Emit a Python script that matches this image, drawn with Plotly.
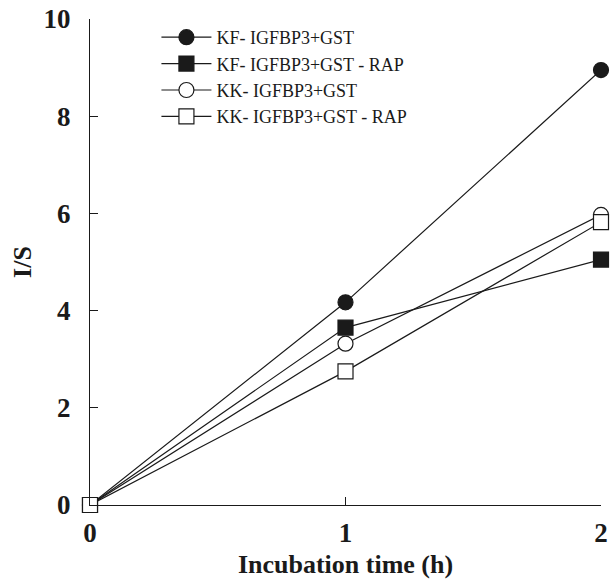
import plotly.graph_objects as go

time_h = [0, 1, 2]
kf_gst = [0, 4.17, 8.95]
kf_gst_rap = [0, 3.65, 5.05]
kk_gst = [0, 3.32, 5.97]
kk_gst_rap = [0, 2.75, 5.82]
names = ["KF- IGFBP3+GST", "KF- IGFBP3+GST - RAP", "KK- IGFBP3+GST", "KK- IGFBP3+GST - RAP"]
y_ticks = [0, 2, 4, 6, 8, 10]
x_ticks = [0, 1, 2]

series = [
    (kf_gst, "circle", "#1a1a1a"),
    (kf_gst_rap, "square", "#1a1a1a"),
    (kk_gst, "circle", "white"),
    (kk_gst_rap, "square", "white"),
]

fig = go.Figure()
for (vals, sym, fill), nm in zip(series, names):
    fig.add_trace(go.Scatter(
        x=time_h, y=vals, name=nm, mode="lines+markers",
        line=dict(color="#1a1a1a", width=1.2),
        marker=dict(symbol=sym, size=15, color=fill, line=dict(color="#1a1a1a", width=1.2)),
        cliponaxis=False,
    ))

fig.update_layout(
    width=611, height=585,
    margin=dict(l=90, r=10, t=19, b=80),
    paper_bgcolor="white", plot_bgcolor="white",
    font=dict(family="Liberation Serif", color="#1a1a1a"),
    showlegend=True,
    legend=dict(x=0.13, y=1.0, xanchor="left", yanchor="top",
                font=dict(family="Liberation Serif", size=18, color="#1a1a1a"),
                bgcolor="rgba(0,0,0,0)", tracegroupgap=0, itemwidth=50),
)
fig.update_xaxes(
    range=[0, 2], tickvals=x_ticks, ticktext=[str(v) for v in x_ticks],
    showline=True, linecolor="#1a1a1a", linewidth=1.2, showgrid=False, zeroline=False,
    ticks="inside", ticklen=8, tickcolor="#1a1a1a", tickwidth=1.2,
    tickfont=dict(family="Liberation Serif", size=27, color="#1a1a1a", weight="bold"),
    ticklabelstandoff=3, automargin=False,
    title=dict(text="<b>Incubation time (h)</b>", font=dict(family="Liberation Serif", size=26, color="#1a1a1a"), standoff=8),
)
fig.update_yaxes(
    range=[0, 10], tickvals=y_ticks, ticktext=[str(v) for v in y_ticks],
    showline=True, linecolor="#1a1a1a", linewidth=1.2, showgrid=False, zeroline=False,
    ticks="inside", ticklen=8, tickcolor="#1a1a1a", tickwidth=1.2,
    tickfont=dict(family="Liberation Serif", size=27, color="#1a1a1a", weight="bold"),
    ticklabelstandoff=13, automargin=False,
    title=dict(text="<b>I/S</b>", font=dict(family="Liberation Serif", size=26, color="#1a1a1a"), standoff=4),
)

fig.write_html("out.html", config={"displayModeBar": False},
               post_script="document.body.style.margin='0';")
